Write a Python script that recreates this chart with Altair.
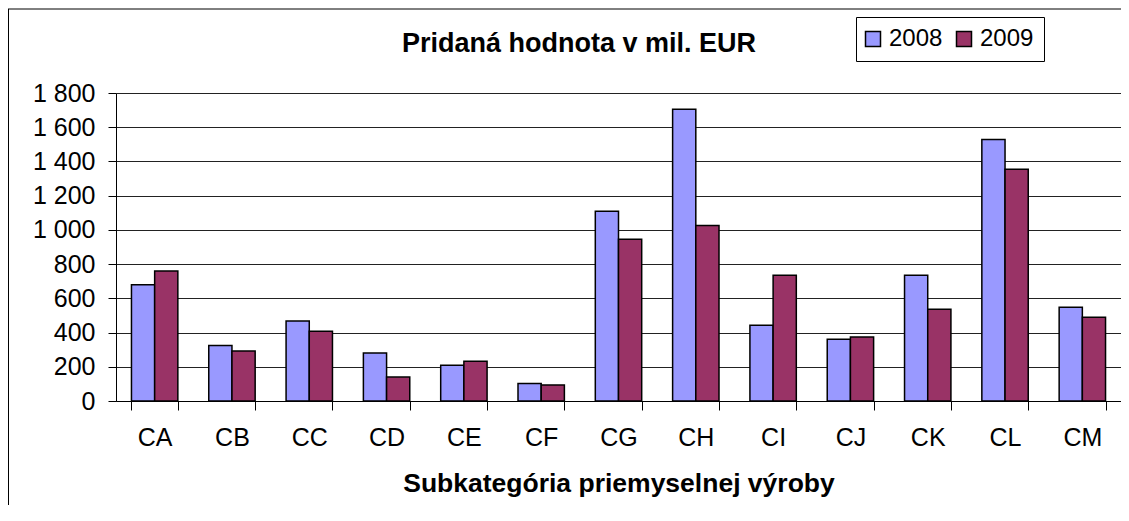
import altair as alt
import pandas as pd

categories = ["CA", "CB", "CC", "CD", "CE", "CF", "CG", "CH", "CI", "CJ", "CK", "CL", "CM"]
values_2008 = [680, 325, 467, 280, 209, 103, 1109, 1705, 442, 361, 735, 1528, 548]
values_2009 = [760, 292, 407, 140, 232, 94, 945, 1025, 735, 374, 536, 1354, 489]
years = ["2008", "2009"]
colors = ["#9999FF", "#993366"]
y_ticks = [0, 200, 400, 600, 800, 1000, 1200, 1400, 1600, 1800]

rows = []
for c, a, b in zip(categories, values_2008, values_2009):
    rows.append({"cat": c, "year": "2008", "value": a})
    rows.append({"cat": c, "year": "2009", "value": b})
df = pd.DataFrame(rows)

FONT = "Liberation Sans"

bars = alt.Chart(df).mark_bar(stroke="black", strokeWidth=1.5).encode(
    x=alt.X(
        "cat:N",
        sort=categories,
        scale=alt.Scale(paddingInner=0.4, paddingOuter=0.2),
        axis=alt.Axis(
            title="Subkategória priemyselnej výroby",
            labelAngle=0,
            tickBand="extent",
            tickSize=9,
            tickColor="black",
            domainColor="black",
            labelPadding=15,
            labelFont=FONT,
            labelFontSize=25,
            labelColor="black",
            titleFont=FONT,
            titleFontSize=26.5,
            titleFontWeight="bold",
            titleColor="black",
            titlePadding=20,
            grid=False,
        ),
    ),
    xOffset=alt.XOffset("year:N", sort=years, scale=alt.Scale(paddingInner=0, paddingOuter=0)),
    y=alt.Y(
        "value:Q",
        scale=alt.Scale(domain=[0, 1800], nice=False),
        axis=alt.Axis(
            values=y_ticks,
            title=None,
            labelExpr="replace(format(datum.value, ','), ',', ' ')",
            tickSize=8,
            tickColor="black",
            domainColor="black",
            labelPadding=13,
            labelFont=FONT,
            labelFontSize=25,
            labelColor="black",
            grid=True,
            gridColor="#222222",
            gridWidth=1,
        ),
    ),
    color=alt.Color(
        "year:N",
        sort=years,
        scale=alt.Scale(domain=years, range=colors),
        legend=alt.Legend(
            title=None,
            orient="none",
            direction="horizontal",
            legendX=740,
            legendY=-76,
            strokeColor="black",
            fillColor="white",
            padding=10,
            symbolType="square",
            symbolSize=225,
            symbolStrokeColor="black",
            symbolStrokeWidth=1.5,
            symbolOpacity=1,
            symbolOffset=-5,
            labelFont=FONT,
            labelFontSize=24,
            labelColor="black",
            labelOffset=4,
            columnPadding=10,
        ),
    ),
)

frame_src = pd.DataFrame({"k": [0]})
frame_top = alt.Chart(frame_src).mark_rule(color="black", strokeWidth=1).encode(
    x=alt.value(-108), x2=alt.value(1005), y=alt.value(-84)
)
frame_left = alt.Chart(frame_src).mark_rule(color="black", strokeWidth=1).encode(
    x=alt.value(-107.5), y=alt.value(-84), y2=alt.value(412)
)

chart = alt.layer(bars, frame_top, frame_left).properties(
    width=1005,
    height=308,
    title=alt.Title(
        "Pridaná hodnota v mil. EUR",
        anchor="start",
        frame="group",
        dx=286,
        dy=70,
        offset=0,
        baseline="alphabetic",
        font=FONT,
        fontSize=27,
        fontWeight="bold",
        color="black",
    ),
    autosize=alt.AutoSizeParams(type="none"),
    padding={"left": 108, "top": 85, "right": 0, "bottom": 104},
).configure_view(
    stroke="#808080", strokeWidth=1.5, fill="#C0C0C0"
).configure(background="white")

chart.save("out.html", embed_options={"renderer": "svg", "actions": False})
